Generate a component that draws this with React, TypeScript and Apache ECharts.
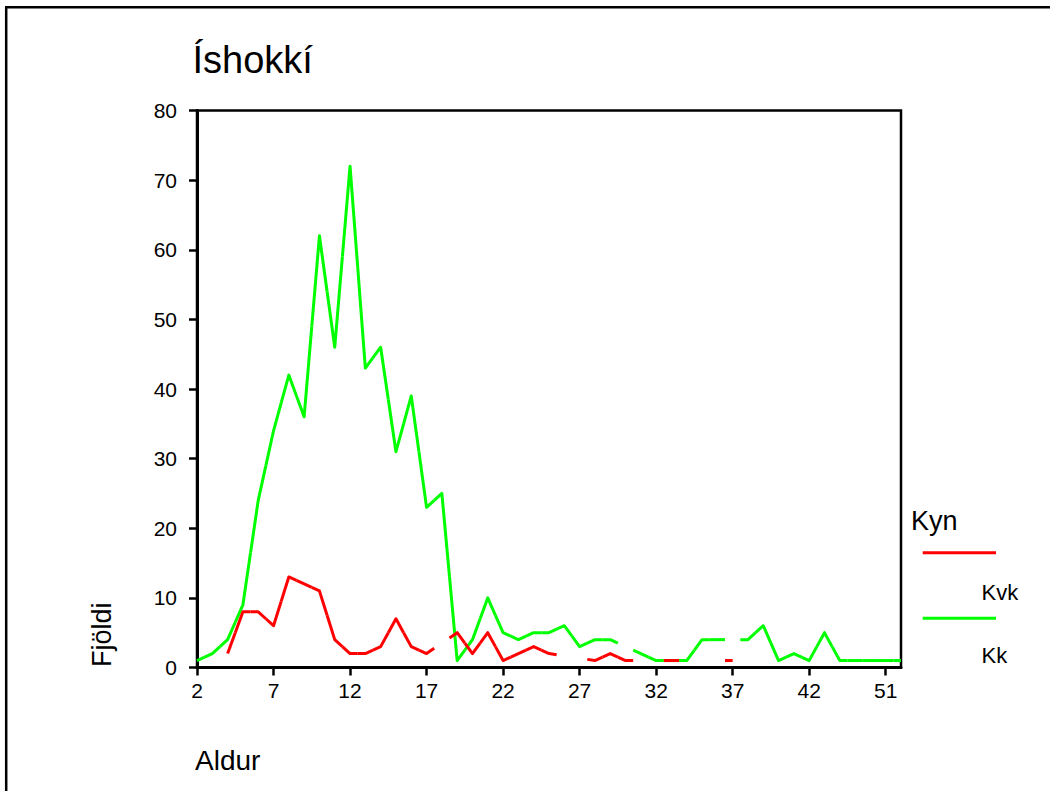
import React, { useEffect, useRef } from 'react';
import * as echarts from 'echarts';

// Age categories (only ages present in the data)
const ageCategories: string[] = [
  '2', '3', '4', '5', '6', '7', '8', '9', '10', '11',
  '12', '13', '14', '15', '16', '17', '18', '19', '20', '21',
  '22', '23', '24', '25', '26', '27', '28', '29', '30', '31',
  '32', '33', '34', '35', '36', '37', '38', '39', '40', '41',
  '42', '43', '44', '46', '48', '51', '53',
];

// Kk (green)
const kkCounts: (number | null)[] = [
  1, 2, 4, 9, 24, 34, 42, 36, 62, 46,
  72, 43, 46, 31, 39, 23, 25, 1, 4, 10,
  5, 4, 5, 5, 6, 3, 4, 4, null, 2,
  1, 1, 1, 4, 4, null, 4, 6, 1, 2,
  1, 5, 1, 1, 1, 1, 1,
];

// Kvk (red)
const kvkCounts: (number | null)[] = [
  null, null, 2, 8, 8, 6, 13, 12, 11, 4,
  2, 2, 3, 7, 3, 2, null, 5, 2, 5,
  1, 2, 3, 2, null, null, 1, 2, 1, null,
  null, 1, null, null, null, 1, null, null, null, null,
  null, null, null, null, null, null, null,
];

const titleText = 'Íshokkí';
const xAxisName = 'Aldur';
const yAxisName = 'Fjöldi';
const legendTitle = 'Kyn';
const legendNames = ['Kvk', 'Kk'];
const seriesColors = ['#ff0000', '#00ff00'];

const FONT = '"Liberation Sans", Arial, Helvetica, sans-serif';

function estimate(vals: (number | null)[], k: number): number | null {
  if (k < 0 || k >= vals.length) return null;
  const v = vals[k];
  if (v != null) return v;
  let L = k - 1;
  while (L >= 0 && vals[L] == null) L--;
  let R = k + 1;
  while (R < vals.length && vals[R] == null) R++;
  if (L < 0 || R >= vals.length) return null;
  const lv = vals[L] as number;
  const rv = vals[R] as number;
  return lv + ((rv - lv) * (k - L)) / (R - L);
}

function pieceRenderer(vals: (number | null)[], color: string) {
  return (_params: any, api: any) => {
    const i = api.value(0) as number;
    const v = api.value(1) as number;
    const p = api.coord([i, v]);
    const pts: number[][] = [];
    const pv = estimate(vals, i - 1);
    if (pv != null) {
      const q = api.coord([i - 1, pv]);
      pts.push([(q[0] + p[0]) / 2, (q[1] + p[1]) / 2]);
    }
    pts.push(p);
    const nv = estimate(vals, i + 1);
    if (nv != null) {
      const q = api.coord([i + 1, nv]);
      pts.push([(q[0] + p[0]) / 2, (q[1] + p[1]) / 2]);
    }
    if (pts.length < 2) return null;
    return {
      type: 'polyline',
      silent: true,
      shape: { points: pts },
      style: { stroke: color, lineWidth: 3, fill: null, lineJoin: 'round' },
    };
  };
}

function toData(vals: (number | null)[]) {
  const out: number[][] = [];
  vals.forEach((v, i) => {
    if (v != null) out.push([i, v]);
  });
  return out;
}

export default function App() {
  const ref = useRef<HTMLDivElement>(null);

  useEffect(() => {
    document.body.style.margin = '0';
    if (!ref.current) return;
    const chart = echarts.init(ref.current, undefined, { renderer: 'svg' });
    const labelStyle = { color: '#000', fontFamily: FONT, fontSize: 21 };
    chart.setOption({
      animation: false,
      backgroundColor: '#fff',
      grid: {
        left: 197,
        top: 110.5,
        width: 704,
        height: 557,
        containLabel: false,
        outerBoundsMode: 'none',
        show: true,
        borderColor: '#000',
        borderWidth: 2.5,
        backgroundColor: 'transparent',
      },
      xAxis: {
        type: 'category',
        data: ageCategories,
        boundaryGap: false,
        axisLine: { show: true, lineStyle: { color: '#000', width: 3 } },
        axisTick: { show: true, interval: 4, length: 8, inside: false, lineStyle: { color: '#000', width: 2.5 } },
        axisLabel: { ...labelStyle, interval: 4, margin: 12 },
        splitLine: { show: false },
      },
      yAxis: {
        type: 'value',
        min: 0,
        max: 80,
        interval: 10,
        axisLine: { show: true, lineStyle: { color: '#000', width: 3 } },
        axisTick: { show: true, length: 8, inside: false, lineStyle: { color: '#000', width: 2.5 } },
        axisLabel: { ...labelStyle, margin: 20 },
        splitLine: { show: false },
      },
      series: [
        {
          type: 'custom',
          name: legendNames[1],
          coordinateSystem: 'cartesian2d',
          encode: { x: 0, y: 1 },
          data: toData(kkCounts),
          renderItem: pieceRenderer(kkCounts, seriesColors[1]),
          z: 3,
        },
        {
          type: 'custom',
          name: legendNames[0],
          coordinateSystem: 'cartesian2d',
          encode: { x: 0, y: 1 },
          data: toData(kvkCounts),
          renderItem: pieceRenderer(kvkCounts, seriesColors[0]),
          z: 4,
        },
      ],
      graphic: [
        // outer frame (left and top edges)
        { type: 'line', shape: { x1: 6.2, y1: 7.3, x2: 6.2, y2: 800 }, style: { stroke: '#000', lineWidth: 2.5 } },
        { type: 'line', shape: { x1: 5, y1: 7.3, x2: 1060, y2: 7.3 }, style: { stroke: '#000', lineWidth: 2.5 } },
        {
          type: 'text', x: 192.5, y: 60,
          style: { text: titleText, fill: '#000', font: `38px ${FONT}`, textAlign: 'left', textVerticalAlign: 'middle' },
        },
        {
          type: 'text', x: 195, y: 760,
          style: { text: xAxisName, fill: '#000', font: `28px ${FONT}`, textAlign: 'left', textVerticalAlign: 'middle' },
        },
        {
          type: 'text', x: 102, y: 667, rotation: Math.PI / 2,
          style: { text: yAxisName, fill: '#000', font: `27px ${FONT}`, textAlign: 'left', textVerticalAlign: 'middle' },
        },
        {
          type: 'text', x: 911, y: 520.6,
          style: { text: legendTitle, fill: '#000', font: `27px ${FONT}`, textAlign: 'left', textVerticalAlign: 'middle' },
        },
        { type: 'line', shape: { x1: 922.7, y1: 552.7, x2: 996, y2: 552.7 }, style: { stroke: seriesColors[0], lineWidth: 3 } },
        {
          type: 'text', x: 981.5, y: 592.4,
          style: { text: legendNames[0], fill: '#000', font: `22px ${FONT}`, textAlign: 'left', textVerticalAlign: 'middle' },
        },
        { type: 'line', shape: { x1: 922.7, y1: 618.3, x2: 996, y2: 618.3 }, style: { stroke: seriesColors[1], lineWidth: 3 } },
        {
          type: 'text', x: 981.5, y: 655.4,
          style: { text: legendNames[1], fill: '#000', font: `22px ${FONT}`, textAlign: 'left', textVerticalAlign: 'middle' },
        },
      ],
    });
    return () => {
      chart.dispose();
    };
  }, []);

  return <div ref={ref} style={{ width: 1050, height: 791 }} />;
}
